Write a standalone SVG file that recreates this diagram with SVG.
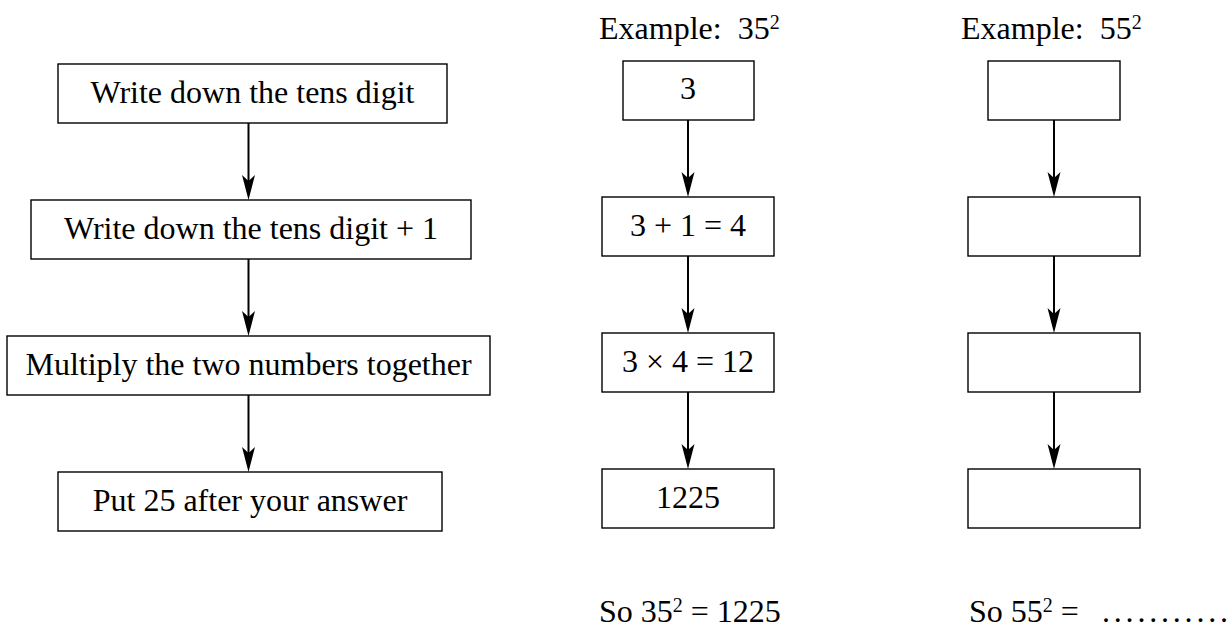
<svg xmlns="http://www.w3.org/2000/svg" width="1232" height="632" viewBox="0 0 1232 632">
<style>
  .box { fill: #fff; stroke: #000; stroke-width: 1.4; }
  .t { font-family: "Liberation Serif", "Times New Roman", serif; font-size: 32px; fill: #000; }
  .c { text-anchor: middle; }
  .sup { font-size: 20px; }
  .link { stroke: #000; stroke-width: 2; fill: none; marker-end: url(#ah); }
</style>
<defs>
  <marker id="ah" viewBox="-25 -7 25 14" refX="-15" refY="0" markerWidth="25" markerHeight="14" markerUnits="userSpaceOnUse" orient="auto">
    <path d="M0,0 L-25,-6.5 L-19,0 L-25,6.5 Z" fill="#000"/>
  </marker>
</defs>
<rect width="1232" height="632" fill="#fff"/>

<g id="connectors">
  <line class="link" x1="248.5" y1="123" x2="248.5" y2="185"/>
  <line class="link" x1="248.5" y1="259" x2="248.5" y2="321"/>
  <line class="link" x1="248.5" y1="395" x2="248.5" y2="457"/>
  <line class="link" x1="688" y1="120" x2="688" y2="182"/>
  <line class="link" x1="688" y1="256" x2="688" y2="318"/>
  <line class="link" x1="688" y1="392" x2="688" y2="454"/>
  <line class="link" x1="1054" y1="120" x2="1054" y2="182"/>
  <line class="link" x1="1054" y1="256" x2="1054" y2="318"/>
  <line class="link" x1="1054" y1="392" x2="1054" y2="454"/>
</g>

<g id="step1"><rect class="box" x="58" y="64" width="389" height="59"/><text class="t c" x="252.5" y="103">Write down the tens digit</text></g>
<g id="step2"><rect class="box" x="31" y="200" width="440" height="59"/><text class="t c" x="251" y="239">Write down the tens digit + 1</text></g>
<g id="step3"><rect class="box" x="7" y="336" width="483" height="59"/><text class="t c" x="248.5" y="375">Multiply the two numbers together</text></g>
<g id="step4"><rect class="box" x="58" y="472" width="384" height="59"/><text class="t c" x="250" y="511">Put 25 after your answer</text></g>

<g id="title35"><text class="t" x="599" y="39" xml:space="preserve">Example:  35<tspan class="sup" dy="-10">2</tspan></text></g>
<g id="ex1"><rect class="box" x="623" y="61" width="131" height="59"/><text class="t c" x="688" y="99">3</text></g>
<g id="ex2"><rect class="box" x="602" y="197" width="172" height="59"/><text class="t c" x="688" y="236">3 + 1 = 4</text></g>
<g id="ex3"><rect class="box" x="602" y="333" width="172" height="59"/><text class="t c" x="688" y="372">3 × 4 = 12</text></g>
<g id="ex4"><rect class="box" x="602" y="469" width="172" height="59"/><text class="t c" x="688" y="508">1225</text></g>
<g id="result35"><text class="t" x="599" y="622" xml:space="preserve">So 35<tspan class="sup" dy="-10">2</tspan><tspan dy="10"> = 1225</tspan></text></g>

<g id="title55"><text class="t" x="961" y="39" xml:space="preserve">Example:  55<tspan class="sup" dy="-10">2</tspan></text></g>
<g id="blank1"><rect class="box" x="988" y="61" width="132" height="59"/></g>
<g id="blank2"><rect class="box" x="968" y="197" width="172" height="59"/></g>
<g id="blank3"><rect class="box" x="968" y="333" width="172" height="59"/></g>
<g id="blank4"><rect class="box" x="968" y="469" width="172" height="59"/></g>
<g id="result55"><text class="t" x="969" y="622" xml:space="preserve">So 55<tspan class="sup" dy="-10">2</tspan><tspan dy="10"> = </tspan><tspan x="1102" letter-spacing="3.8">...........</tspan></text></g>
</svg>
